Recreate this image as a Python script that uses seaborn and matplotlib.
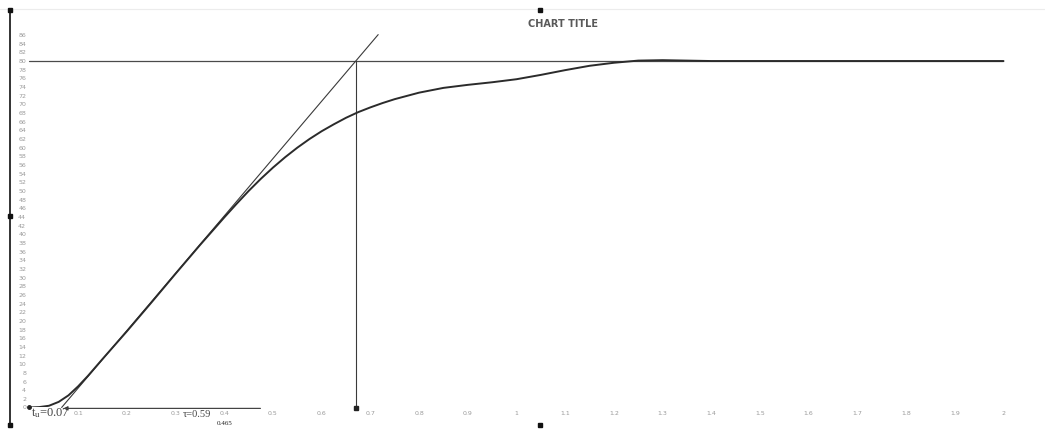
import numpy as np
import pandas as pd
import matplotlib
matplotlib.use("Agg")
import matplotlib.pyplot as plt
import seaborn as sns

# Step response of the process (time, output)
t_values = [0.00, 0.02, 0.04, 0.06, 0.08, 0.10, 0.12, 0.15, 0.20, 0.25,
            0.30, 0.35, 0.40, 0.425, 0.45, 0.475, 0.50, 0.525, 0.55, 0.575,
            0.60, 0.625, 0.65, 0.675, 0.70, 0.725, 0.75, 0.80, 0.85, 0.90,
            0.95, 1.00, 1.05, 1.10, 1.15, 1.20, 1.25, 1.30, 1.35, 1.40,
            1.50, 1.60, 1.70, 1.80, 1.90, 2.00]
y_values = [0.0, 0.1, 0.4, 1.3, 2.8, 4.9, 7.3, 11.2, 17.6, 24.2,
            30.9, 37.5, 43.9, 47.0, 50.0, 52.8, 55.4, 57.8, 60.0, 62.0,
            63.8, 65.4, 66.9, 68.2, 69.3, 70.3, 71.2, 72.7, 73.8, 74.5,
            75.1, 75.8, 76.8, 77.9, 78.9, 79.6, 80.1, 80.2, 80.1, 80.0,
            80.0, 80.0, 80.0, 80.0, 80.0, 80.0]

# Inflection tangent, steady-state level and construction lines
tangent_x = [0.066, 0.716]
tangent_y = [0.0, 86.1]
steady_x = [0.0, 2.0]
steady_y = [80.0, 80.0]
tangent_hit_x = [0.67, 0.67]
tangent_hit_y = [80.0, -0.2]
span_x = [0.48, 0.064]
span_y = [-0.2, -0.2]

x_ticks = [round(0.1 * i, 1) for i in range(1, 21)]
x_tick_labels = ["0.1", "0.2", "0.3", "0.4", "0.5", "0.6", "0.7", "0.8", "0.9", "1",
                 "1.1", "1.2", "1.3", "1.4", "1.5", "1.6", "1.7", "1.8", "1.9", "2"]
y_ticks = list(range(0, 88, 2))

sns.set_theme(style="white")
plt.rcParams["mathtext.fontset"] = "stix"

fig = plt.figure(figsize=(10.45, 4.3), dpi=100)
ax = fig.add_axes([0.02636, 0.05233, 0.9479, 0.8863])

df = pd.DataFrame({"t": t_values, "y": y_values})

ax.plot(steady_x, steady_y, color="#4a4a4a", lw=0.9, zorder=1)
ax.plot(tangent_x, tangent_y, color="#3a3a3a", lw=0.8, zorder=2, clip_on=False)
sns.lineplot(data=df, x="t", y="y", ax=ax, color="#2b2b2b", lw=1.4, zorder=3)
ax.plot(tangent_hit_x, tangent_hit_y, color="#3a3a3a", lw=0.8, clip_on=False)
ax.plot([tangent_hit_x[1]], [tangent_hit_y[1]], marker="s", ms=2.5,
        color="#222222", clip_on=False)
ax.plot([t_values[0]], [y_values[0]], marker="o", ms=2.5, color="#222222",
        clip_on=False)
ax.annotate("", xy=(span_x[1], span_y[1]), xytext=(span_x[0], span_y[0]),
            arrowprops=dict(arrowstyle="-|>", color="#333333", lw=0.8,
                            mutation_scale=6),
            annotation_clip=False)

ax.set_xlim(-0.004, 2.03)
ax.set_ylim(0, 88)
ax.set_xticks(x_ticks)
ax.set_xticklabels(x_tick_labels)
ax.set_yticks(y_ticks)
ax.set_yticklabels([str(v) for v in y_ticks])
ax.tick_params(axis="both", labelsize=4.5, colors="#9a9a9a", length=0)
ax.tick_params(axis="x", pad=2.5)
ax.tick_params(axis="y", pad=1)
ax.set_xlabel("")
ax.set_ylabel("")
for side in ax.spines.values():
    side.set_visible(False)

serif = ["Liberation Serif", "DejaVu Serif"]
ax.text(0.003, -1.3, r"$\mathregular{t_u}$=0.07", fontsize=9, family=serif,
        color="#444444", ha="left", va="center", clip_on=False)
ax.text(0.315, -1.7, "τ=0.59", fontsize=7.5, family=serif, color="#444444",
        ha="left", va="center", clip_on=False)
ax.text(0.385, -3.6, "0.465", fontsize=5, family=serif, color="#222222",
        ha="left", va="center", clip_on=False)

fig.text(563 / 1045, 1 - 24 / 430, "CHART TITLE", fontsize=7, fontweight="bold",
         color="#595959", ha="center", va="center")

# chart frame handles
fig.add_artist(plt.Line2D([0, 1], [1 - 9 / 430, 1 - 9 / 430], color="#ececec", lw=0.8))
fig.add_artist(plt.Line2D([10 / 1045, 10 / 1045], [1 - 10 / 430, 1 - 425 / 430],
                          color="#111111", lw=1.2))
for hx, hy in [(10, 10), (10, 216), (10, 425), (540, 10), (540, 425)]:
    fig.add_artist(plt.Line2D([hx / 1045], [1 - hy / 430], marker="s", ms=2.5,
                              color="#111111", lw=0))

fig.savefig("out.png", dpi=100)
